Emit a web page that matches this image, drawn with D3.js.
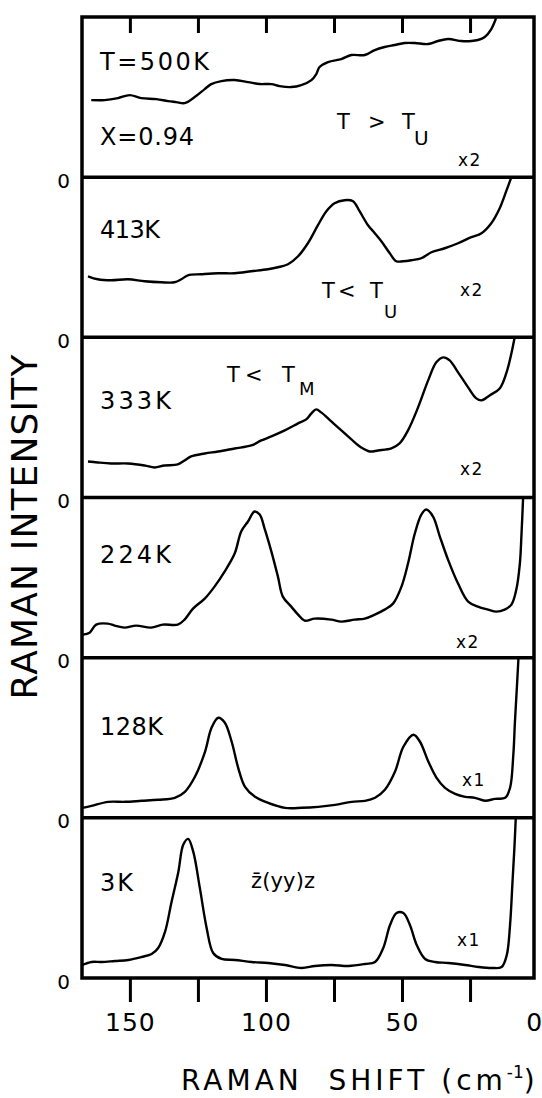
<!DOCTYPE html>
<html>
<head>
<meta charset="utf-8">
<script src="https://cdn.jsdelivr.net/npm/d3@7"></script>
<style>
  body { margin: 0; background: #fff; }
  svg { display: block; }
  text { font-family: "DejaVu Sans", sans-serif; fill: #000; }
</style>
</head>
<body>
<svg id="chart" width="542" height="1098"></svg>
<script>
// ---- data (shift in cm-1, intensity in arbitrary units per panel) ----
const temperatures = ["T=500K", "413K", "333K", "224K", "128K", "3K"];
const gains = ["x2", "x2", "x2", "x2", "x1", "x1"];
const minorTicks = [150, 125, 100, 75, 50, 25];
const tickLabels = [150, 100, 50, 0];

const spec500 = [[164.2,77],[159.3,77],[154.4,79],[150.1,82],[145.8,79],[140.3,78],[136.0,76],[133.0,75],[129.9,74],[126.2,80],[122.5,88],[120.1,93],[116.4,96],[111.5,97],[106.6,95],[102.3,93],[98.0,93],[95.0,91],[90.7,90],[87.0,92],[83.3,97],[81.5,103],[80.3,110],[77.2,115],[72.3,118],[68.6,122],[63.7,122],[60.0,127],[56.4,130],[52.7,132],[49.0,134],[45.3,134],[40.4,133],[36.8,136],[33.1,138],[28.2,136],[24.5,136],[22.1,137],[19.6,140],[17.2,148],[15.3,160]];
const spec413 = [[165.4,61],[161.8,58],[156.9,57],[150.7,58],[144.6,56],[138.5,55],[133.6,55],[131.1,58],[128.7,62],[123.8,63],[117.6,64],[111.5,64],[105.4,66],[99.3,68],[95.6,70],[91.9,73],[88.2,81],[84.6,94],[80.9,112],[77.8,126],[74.8,134],[71.1,137],[68.0,136],[65.6,126],[62.5,112],[60.0,104],[57.6,96],[54.5,84],[52.1,76],[49.6,76],[46.6,77],[42.9,79],[39.2,85],[34.3,89],[29.4,94],[24.5,100],[20.8,104],[17.2,114],[14.1,129],[11.7,146],[9.8,160]];
const spec333 = [[165.4,36],[161.8,35],[156.9,34],[150.7,34],[144.6,32],[140.9,30],[137.3,32],[132.4,33],[129.9,37],[127.5,41],[122.5,44],[117.6,46],[111.5,49],[105.4,52],[101.7,57],[98.0,61],[93.1,67],[88.2,74],[85.2,78],[83.3,84],[81.5,88],[79.7,85],[76.0,76],[72.3,67],[68.6,58],[65.0,50],[61.9,46],[58.8,47],[53.9,49],[50.9,54],[47.8,67],[44.1,90],[40.4,117],[37.4,135],[34.9,140],[32.5,137],[29.4,125],[25.7,110],[22.7,99],[20.8,97],[17.8,102],[14.1,109],[11.7,124],[9.8,144],[8.6,160]];
const spec224 = [[167.3,23],[164.8,25],[162.4,33],[158.1,34],[155.6,32],[152.0,30],[147.7,32],[142.2,30],[137.9,33],[132.4,33],[129.9,38],[126.8,49],[122.5,59],[118.9,71],[115.2,86],[111.5,104],[109.1,126],[106.6,136],[104.2,146],[102.3,143],[100.5,129],[98.0,106],[95.6,81],[93.8,61],[90.7,51],[88.2,43],[85.8,37],[82.1,39],[76.0,38],[72.3,36],[67.4,38],[63.7,39],[60.0,43],[56.4,48],[53.3,54],[50.2,71],[47.8,94],[45.3,124],[42.9,143],[41.1,148],[38.6,141],[36.1,121],[33.1,98],[29.4,74],[25.7,56],[22.1,51],[18.4,48],[15.3,46],[12.3,48],[9.8,53],[8.0,68],[6.7,94],[6.1,123],[5.5,160]];
const spec128 = [[167.5,10],[164.1,12],[158.0,16],[151.8,16],[145.7,17],[139.6,18],[133.5,20],[129.8,26],[126.1,41],[122.4,66],[120.0,90],[117.5,100],[115.1,95],[112.6,76],[110.2,50],[107.7,31],[104.0,21],[99.2,15],[93.0,10],[86.9,10],[80.8,11],[74.6,13],[68.5,16],[63.6,17],[59.9,20],[56.3,28],[52.6,46],[49.5,71],[45.8,83],[43.4,76],[40.3,56],[37.3,40],[34.2,30],[30.5,24],[26.8,21],[23.2,20],[19.5,17],[15.8,19],[12.1,20],[10.3,30],[9.1,63],[8.5,96],[7.8,130],[7.2,160]];
const spec3 = [[167.5,13],[164.1,16],[160.4,16],[155.5,17],[150.6,18],[145.7,21],[142.0,24],[139.6,30],[137.1,46],[134.7,76],[132.2,106],[130.4,133],[128.6,139],[126.7,126],[124.3,90],[121.8,50],[119.4,25],[116.3,19],[111.4,18],[105.3,16],[99.2,15],[93.0,13],[86.9,10],[82.0,12],[75.9,13],[69.7,12],[63.6,14],[59.9,16],[56.9,30],[54.4,53],[52.0,65],[49.5,65],[47.1,53],[44.6,33],[41.5,19],[37.9,16],[33.0,15],[26.8,13],[21.9,11],[17.0,10],[13.4,11],[11.5,23],[10.3,53],[9.4,96],[8.7,130],[8.2,160]];

const spectra = [spec500, spec413, spec333, spec224, spec128, spec3];

// ---- layout ----
const svg = d3.select("#chart");
const frame = { left: 82, right: 534, top: 17, bottom: 978 };
const panelH = (frame.bottom - frame.top) / spectra.length;

const x = d3.scaleLinear().domain([167.6, 1.5]).range([frame.left, frame.right]);
const y = d3.scaleLinear().domain([0, 160]).range([panelH, 0]);

const line = d3.line()
  .x(d => x(d[0]))
  .y(d => y(d[1]))
  .curve(d3.curveCatmullRom.alpha(0.5));

svg.append("defs").append("clipPath")
  .attr("id", "panel-clip")
  .append("rect")
    .attr("x", frame.left).attr("y", 0)
    .attr("width", frame.right - frame.left).attr("height", panelH);

const panels = svg.selectAll(".panel").data(spectra).enter().append("g")
  .attr("class", "panel")
  .attr("transform", (d, i) => `translate(0,${frame.top + i * panelH})`);

panels.append("path")
  .attr("d", line)
  .attr("clip-path", "url(#panel-clip)")
  .attr("fill", "none")
  .attr("stroke", "#000")
  .attr("stroke-width", 2.4)
  .attr("stroke-linejoin", "round");

// zero label at the bottom of each panel
panels.each(function() {
  const g = d3.select(this).append("g")
    .attr("transform", `translate(${frame.left},0)`)
    .call(d3.axisLeft(y).tickValues([0]).tickSize(0).tickPadding(12));
  g.select(".domain").remove();
  g.selectAll("text").attr("font-size", 20).attr("font-family", null).attr("dy", "0.5em");
});

// temperature labels, gain factors
const tempY = [53.4, 61.2, 72.1, 65.9, 77.7, 73.6];
const tempW = [109, 60, 71, 71, 63, 33];
panels.append("text")
  .attr("x", 100).attr("y", (d, i) => tempY[i])
  .attr("font-size", 24)
  .attr("textLength", (d, i) => tempW[i]).attr("lengthAdjust", "spacing")
  .text((d, i) => temperatures[i]);

const gainX = [458, 460, 460, 456, 462, 457];
const gainY = [149.2, 119, 137.9, 150.7, 128.5, 128.4];
panels.append("text")
  .attr("x", (d, i) => gainX[i]).attr("y", (d, i) => gainY[i])
  .attr("font-size", 17)
  .attr("letter-spacing", 1.5)
  .text((d, i) => gains[i]);

// regime notes
const notes = [
  { p: 0, t: "X=0.94", x: 100, y: 128.4, fs: 24, w: 94 },
  { p: 0, t: "T", x: 337, y: 112.3, fs: 21 },
  { p: 0, t: ">", x: 368, y: 112.3, fs: 21 },
  { p: 0, t: "T", x: 402, y: 112.3, fs: 21 },
  { p: 0, t: "U", x: 414, y: 128, fs: 20 },
  { p: 1, t: "T", x: 322, y: 120.8, fs: 21 },
  { p: 1, t: "<", x: 338, y: 120.8, fs: 21 },
  { p: 1, t: "T", x: 370, y: 120.8, fs: 21 },
  { p: 1, t: "U", x: 384, y: 141, fs: 18 },
  { p: 2, t: "T", x: 227, y: 44.7, fs: 21 },
  { p: 2, t: "<", x: 245, y: 44.7, fs: 21 },
  { p: 2, t: "T", x: 282, y: 44.7, fs: 21 },
  { p: 2, t: "M", x: 299, y: 58, fs: 18 },
  { p: 5, t: "z\u0304(yy)z", x: 251, y: 70.5, fs: 21, w: 64 }
];
notes.forEach(n => {
  const t = d3.select(panels.nodes()[n.p]).append("text")
    .attr("x", n.x).attr("y", n.y)
    .attr("font-size", n.fs)
    .text(n.t);
  if (n.w) t.attr("textLength", n.w).attr("lengthAdjust", "spacing");
});

// frame and panel separators
svg.append("rect")
  .attr("x", frame.left).attr("y", frame.top)
  .attr("width", frame.right - frame.left).attr("height", frame.bottom - frame.top)
  .attr("fill", "none").attr("stroke", "#000").attr("stroke-width", 3.5);

svg.selectAll(".sep").data(d3.range(1, spectra.length)).enter().append("line")
  .attr("class", "sep")
  .attr("x1", frame.left).attr("x2", frame.right)
  .attr("y1", i => frame.top + i * panelH).attr("y2", i => frame.top + i * panelH)
  .attr("stroke", "#000").attr("stroke-width", 3.5);

// x axis: ticks outside at bottom, inward at top
const styleTicks = g => {
  g.select(".domain").remove();
  g.selectAll(".tick line").attr("stroke", "#000").attr("stroke-width", 3);
};
svg.append("g")
  .attr("transform", `translate(0,${frame.bottom})`)
  .call(d3.axisBottom(x).tickValues(minorTicks).tickSize(24).tickFormat(""))
  .call(styleTicks);
svg.append("g")
  .attr("transform", `translate(0,${frame.top})`)
  .call(d3.axisTop(x).tickValues(minorTicks).tickSize(-16).tickFormat(""))
  .call(styleTicks);

const labelAxis = svg.append("g")
  .attr("transform", `translate(0,${frame.bottom})`)
  .call(d3.axisBottom(x).tickValues(tickLabels).tickSize(0).tickPadding(35));
labelAxis.select(".domain").remove();
labelAxis.selectAll("text").attr("font-size", 25).attr("font-family", null).attr("letter-spacing", 1)
  .attr("dx", d => d === 0 ? -4 : 0);

// axis titles
svg.append("text")
  .attr("transform", "translate(37,527) rotate(-90)")
  .attr("text-anchor", "middle")
  .attr("font-size", 36)
  .attr("textLength", 345).attr("lengthAdjust", "spacing")
  .text("RAMAN INTENSITY");

const xt = svg.append("text")
  .attr("x", 181).attr("y", 1090)
  .attr("font-size", 28);
xt.append("tspan").attr("letter-spacing", 4).text("RAMAN\u00a0\u00a0SHIFT\u00a0(cm");
xt.append("tspan").attr("font-size", 17).attr("dy", -12).text("-1");
xt.append("tspan").attr("dy", 12).text(")");
</script>
</body>
</html>
